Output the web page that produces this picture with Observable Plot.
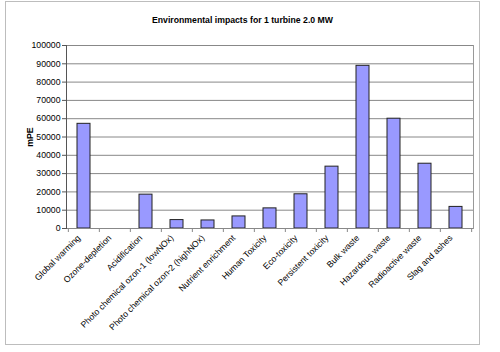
<!DOCTYPE html>
<html><head><meta charset="utf-8">
<script src="https://cdn.jsdelivr.net/npm/d3@7"></script>
<script src="https://cdn.jsdelivr.net/npm/@observablehq/plot@0.6"></script>
<style>
body{margin:0;background:#fff;}
#wrap{position:relative;width:500px;height:352px;}
#border{position:absolute;left:5px;top:1px;width:473px;height:342px;border:1px solid #bdbdbd;}
#chart{position:absolute;left:0;top:0;}
</style></head><body>
<div id="wrap"><div id="border"></div><div id="chart"></div></div>
<script>
const title = "Environmental impacts for 1 turbine 2.0 MW";
const yLabel = "mPE";
const categories = ["Global warming","Ozone-depletion","Acidification","Photo chemical ozon-1 (lowNOx)","Photo chemical ozon-2 (highNOx)","Nutrient enrichment","Human Toxicity","Eco-toxicity","Persistent toxicity","Bulk waste","Hazardous waste","Radioactive waste","Slag and ashes"];
const values = [57200, 0, 18500, 4600, 4400, 6600, 11000, 18700, 33800, 88900, 60000, 35400, 11800];
const yTicks = [0,10000,20000,30000,40000,50000,60000,70000,80000,90000,100000];

const data = categories.map((c,i)=>({category:c, value:values[i]}));
const W=500,H=352,mL=66,mR=27,mT=45,mB=124;
const step=(W-mL-mR)/categories.length;
const plot = Plot.plot({
  width:W, height:H, marginLeft:mL, marginRight:mR, marginTop:mT, marginBottom:mB,
  style:{fontFamily:"'Liberation Sans', Arial, sans-serif", fontSize:"8.7px", color:"#000", background:"transparent", overflow:"visible"},
  x:{domain:categories, paddingInner:0.58, paddingOuter:0.29, label:null},
  y:{domain:[0,100000], label:null},
  marks:[
    Plot.gridY(yTicks,{stroke:"#888", strokeOpacity:1}),
    Plot.frame({anchor:"right", stroke:"#999"}),
    Plot.barY(data,{x:"category", y:"value", fill:"#9999ff", stroke:"#222", strokeWidth:1}),
    Plot.ruleY([0],{stroke:"#888"}),
    Plot.frame({anchor:"left", stroke:"#555"}),
    Plot.axisY({ticks:yTicks, tickFormat:d=>String(d), tickSize:4, tickPadding:2, label:null, stroke:"#555"}),
    Plot.axisX({tickSize:0, tickRotate:-45, tickPadding:8, dx:-5, label:null, fill:"#000"}),
    Plot.axisX({tickSize:4, tickFormat:()=>"", dx:-step/2, label:null, stroke:"#888"}),
    Plot.axisX([categories[categories.length-1]],{tickSize:4, tickFormat:()=>"", dx:step/2, label:null, stroke:"#888"}),
    Plot.text([yLabel],{frameAnchor:"left", textAnchor:"middle", dx:-36, rotate:-90, fontWeight:"bold"}),
    Plot.text([title],{frameAnchor:"top", textAnchor:"middle", dx:(5+479)/2-(mL+(W-mL-mR)/2), dy:-29, fontWeight:"bold"})
  ]
});
document.getElementById("chart").appendChild(plot);
</script>
</body></html>
